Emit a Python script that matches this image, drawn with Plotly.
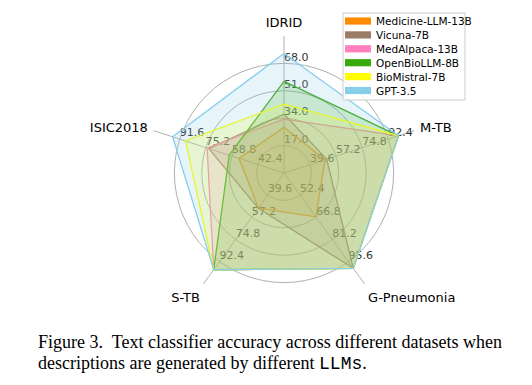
import plotly.graph_objects as go

# ---------------- data ----------------
axes_names = ["IDRID", "M-TB", "G-Pneumonia", "S-TB", "ISIC2018"]

# per-axis tick labels (each axis has its own scale)
ticks_idrid = [17.0, 34.0, 51.0, 68.0]
ticks_mtb = [39.6, 57.2, 74.8, 92.4]
ticks_gpn = [52.4, 66.8, 81.2, 95.6]
ticks_stb = [39.6, 57.2, 74.8, 92.4]
ticks_isic = [42.4, 58.8, 75.2, 91.6]

series_names = ["Medicine-LLM-13B", "Vicuna-7B", "MedAlpaca-13B",
                "OpenBioLLM-8B", "BioMistral-7B", "GPT-3.5"]
medicine_llm = [28.4, 49.7, 66.5, 49.9, 54.3]
vicuna = [36.5, 50.8, 99.9, 50.0, 73.3]
medalpaca = [33.4, 99.3, 99.9, 98.8, 74.4]
openbiollm = [56.9, 99.3, 99.9, 98.8, 60.5]
biomistral = [42.7, 99.3, 99.9, 98.8, 88.0]
gpt35 = [74.2, 99.3, 99.9, 98.8, 96.1]

series_colors = ["#ff8c00", "#9c7b64", "#ff7fbf", "#38aa0c", "#ffff00", "#87ceeb"]
fill_colors = ["rgba(255,140,0,0.2)", "rgba(156,123,100,0.2)", "rgba(255,127,191,0.2)",
               "rgba(56,170,12,0.2)", "rgba(255,255,0,0.2)", "rgba(135,206,235,0.2)"]

caption_line1 = "Figure 3.  Text classifier accuracy across different datasets when"
caption_line2 = ("descriptions are generated by different "
                 "<span style='font-family:Liberation Mono'>LLMs</span>.")

# ---------------- helpers ----------------
axis_ticks = [ticks_idrid, ticks_mtb, ticks_gpn, ticks_stb, ticks_isic]


def normalize(values):
    out = []
    for v, t in zip(values, axis_ticks):
        step = t[1] - t[0]
        origin = t[0] - step
        out.append((v - origin) / step)
    return out


fig = go.Figure()

# per-axis tick labels (drawn first so that the fills tint them)
for name, t in zip(axes_names, axis_ticks):
    fig.add_trace(go.Scatterpolar(
        r=[i + 1 for i in range(len(t))],
        theta=[name] * len(t),
        mode="text",
        text=["%.1f" % v for v in t],
        textposition="top right",
        textfont=dict(family="DejaVu Sans", size=11, color="#333333"),
        showlegend=False, hoverinfo="skip",
    ))

all_series = [medicine_llm, vicuna, medalpaca, openbiollm, biomistral, gpt35]
for name, vals, col, fcol in zip(series_names, all_series, series_colors, fill_colors):
    rr = normalize(vals)
    fig.add_trace(go.Scatterpolar(
        r=rr + [rr[0]],
        theta=axes_names + [axes_names[0]],
        mode="lines",
        line=dict(color=col, width=1.3),
        fill="toself",
        fillcolor=fcol,
        showlegend=False,
        name=name,
    ))

W, H = 532, 385
cx, cy, R = 284, 173, 137

# ---- legend drawn as layout shapes + annotations ----
leg_left, leg_top, leg_right, leg_bottom = 343, 13, 465, 100
row0, row_gap = 21, 13.9
shapes = [dict(type="rect", xref="paper", yref="paper", layer="above",
               x0=leg_left / W, x1=leg_right / W, y0=1 - leg_bottom / H, y1=1 - leg_top / H,
               line=dict(color="#cccccc", width=1), fillcolor="rgba(255,255,255,0.8)")]
annotations = []
for i, (name, col) in enumerate(zip(series_names, series_colors)):
    yc = row0 + i * row_gap
    shapes.append(dict(type="rect", xref="paper", yref="paper", layer="above",
                       x0=345 / W, x1=371 / W, y0=1 - (yc + 3.6) / H, y1=1 - (yc - 3.6) / H,
                       line=dict(width=0), fillcolor=col))
    annotations.append(dict(x=374 / W, y=1 - yc / H, xref="paper", yref="paper",
                            xanchor="left", yanchor="middle", showarrow=False, text=name,
                            font=dict(family="DejaVu Sans", size=10.5, color="black")))

annotations += [
    dict(x=36 / W, y=1 - 342 / H, xref="paper", yref="paper", xanchor="left", yanchor="middle",
         showarrow=False, text=caption_line1,
         font=dict(family="Liberation Serif", size=18, color="black")),
    dict(x=36 / W, y=1 - 363 / H, xref="paper", yref="paper", xanchor="left", yanchor="middle",
         showarrow=False, text=caption_line2,
         font=dict(family="Liberation Serif", size=18, color="black")),
]

fig.update_layout(
    width=W, height=H,
    margin=dict(l=0, r=0, t=0, b=0),
    paper_bgcolor="white",
    showlegend=False,
    font=dict(family="DejaVu Sans", color="black"),
    polar=dict(
        domain=dict(x=[(cx - R) / W, (cx + R) / W], y=[1 - (cy + R) / H, 1 - (cy - R) / H]),
        bgcolor="white",
        radialaxis=dict(range=[0, 5], tickvals=[1, 2, 3, 4], showticklabels=False,
                        showline=False, ticks="", gridcolor="#b0b0b0", gridwidth=1),
        angularaxis=dict(rotation=90, direction="clockwise", showline=False,
                         gridcolor="#b0b0b0", gridwidth=1,
                         ticks="outside", ticklen=3, tickcolor="rgba(0,0,0,0)",
                         categoryorder="array", categoryarray=axes_names,
                         tickfont=dict(family="DejaVu Sans", size=13, color="black")),
    ),
    shapes=shapes,
    annotations=annotations,
)

fig.write_html("out.html",
               config={"displayModeBar": False},
               post_script="document.body.style.margin='0';document.body.style.padding='0';")
